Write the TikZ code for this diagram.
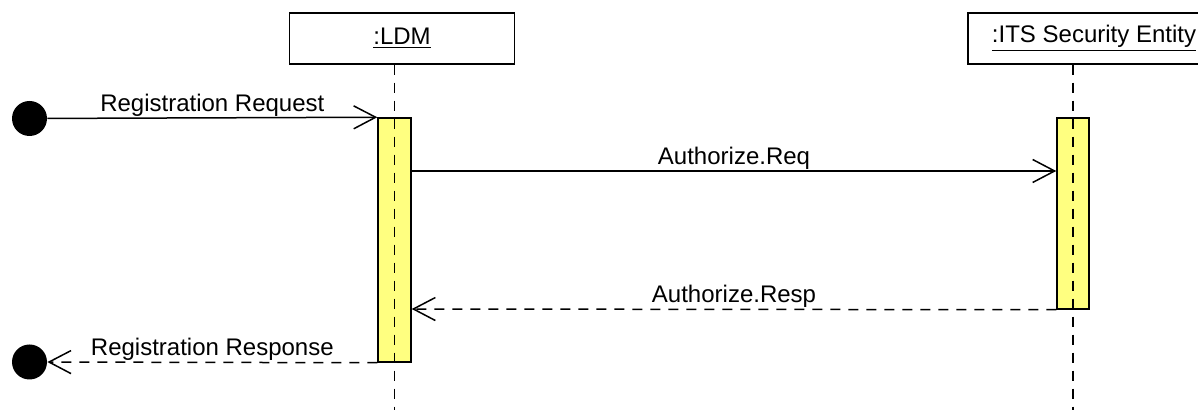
\documentclass[tikz,border=0pt]{standalone}
\usepackage{fontspec}
\setmainfont{Liberation Sans}
\usetikzlibrary{arrows.meta}
\definecolor{actyellow}{RGB}{255,255,128}

\begin{document}
\begin{tikzpicture}[
    x=0.5pt, y=-0.5pt,
    font=\fontsize{12}{14}\selectfont,
    object/.style={rectangle, draw, line width=0.75pt, minimum height=25.5pt, inner sep=0pt},
    activation/.style={rectangle, draw, fill=actyellow, line width=0.75pt, inner sep=0pt},
    lifeline/.style={line width=0.75pt, dash pattern=on 5pt off 4pt},
    msg/.style={-{Straight Barb[length=11pt, width=11.5pt]}, line width=0.75pt},
    reply/.style={msg, dash pattern=on 5pt off 4pt},
    endpoint/.style={circle, fill=black, minimum size=17.5pt, inner sep=0pt},
    msglabel/.style={above, inner sep=0.5pt}
]
    \useasboundingbox (0,0) rectangle (1198,410);

    % Objects
    \node[object, minimum width=112.5pt] (ldm) at (402,38.5) {\underline{:LDM}};
    \node[object, minimum width=126pt] (its) at (1094,38.5) {\underline{:ITS Security Entity}};

    % Activations
    \node[activation, minimum width=16.5pt, minimum height=122pt] (ldmact) at (394.5,240) {};
    \node[activation, minimum width=16pt, minimum height=95.5pt] (itsact) at (1073,213.5) {};

    % Lifelines
    \coordinate (bottom) at (0,410);
    \draw[lifeline] (ldmact.center |- ldm.south) -- (ldmact.center |- bottom);
    \draw[lifeline] (itsact.center |- its.south) -- (itsact.center |- bottom);

    % Found and lost message ends
    \node[endpoint] (start) at (29.5,118.5) {};
    \node[endpoint] (stop) at (29.5,362) {};

    % Messages
    \coordinate (req) at (0,171);
    \coordinate (resp) at (0,309);
    \draw[msg] (start) -- (ldmact.north west) node[msglabel, midway] {Registration Request};
    \draw[msg] (ldmact.east |- req) -- (itsact.west |- req) node[msglabel, midway] {Authorize.Req};
    \draw[reply] (itsact.south west) -- (ldmact.east |- resp) node[msglabel, midway] {Authorize.Resp};
    \draw[reply] (ldmact.south west) -- (stop) node[msglabel, midway] {Registration Response};
\end{tikzpicture}
\end{document}
